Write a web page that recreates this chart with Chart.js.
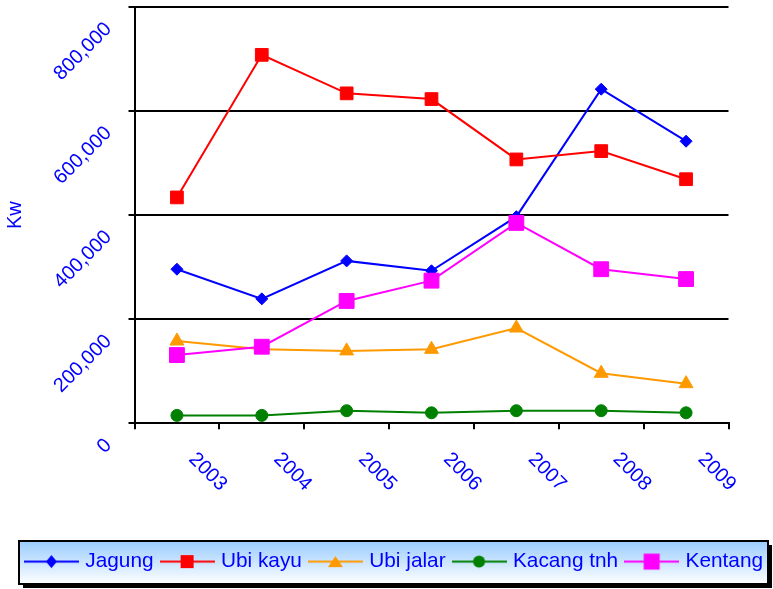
<!DOCTYPE html>
<html><head><meta charset="utf-8">
<script src="https://cdn.jsdelivr.net/npm/chart.js@4.4.1/dist/chart.umd.min.js"></script>
<style>html,body{margin:0;padding:0;background:#fff;} canvas{display:block;}</style>
</head><body>
<canvas id="c" width="773" height="589"></canvas>
<script>
const years = ['2003','2004','2005','2006','2007','2008','2009'];
const jagung = [296000, 239000, 312000, 293000, 397000, 642000, 542000];
const ubiKayu = [434000, 708000, 634000, 623000, 507000, 523000, 469000];
const ubiJalar = [158000, 142000, 139000, 142000, 183000, 96000, 76000];
const kacangTanah = [15000, 15000, 24000, 20000, 24000, 24000, 20000];
const kentang = [131000, 147000, 235000, 274000, 385000, 296000, 277000];
const seriesNames = ['Jagung', 'Ubi kayu', 'Ubi jalar', 'Kacang tnh', 'Kentang'];
const yTicks = [0, 200000, 400000, 600000, 800000];
const yTitle = 'Kw';

const FAMILY = '"Liberation Sans", Arial, sans-serif';
const BLUE_TEXT = '#0000ff';

function makeIcon(color, shape) {
  const c = document.createElement('canvas');
  c.width = 55; c.height = 21;
  const g = c.getContext('2d');
  const cx = 27.5, cy = 10.5;
  g.strokeStyle = color; g.lineWidth = 2;
  g.beginPath(); g.moveTo(0, cy); g.lineTo(55, cy); g.stroke();
  g.fillStyle = color;
  g.beginPath();
  if (shape === 'diamond') {
    g.moveTo(cx, cy - 6.5); g.lineTo(cx + 5.5, cy); g.lineTo(cx, cy + 6.5); g.lineTo(cx - 5.5, cy); g.closePath();
  } else if (shape === 'square') {
    g.rect(cx - 6.5, cy - 6.5, 13, 13);
  } else if (shape === 'bigsquare') {
    g.rect(cx - 8, cy - 8, 16, 16);
  } else if (shape === 'triangle') {
    g.moveTo(cx, cy - 5.5); g.lineTo(cx + 7.5, cy + 5.5); g.lineTo(cx - 7.5, cy + 5.5); g.closePath();
  } else if (shape === 'circle') {
    g.arc(cx, cy, 6, 0, Math.PI * 2);
  }
  g.fill();
  return c;
}

const colors = ['#0000ff', '#ff0000', '#ff9900', '#008000', '#ff00ff'];
const icons = [
  makeIcon(colors[0], 'diamond'),
  makeIcon(colors[1], 'square'),
  makeIcon(colors[2], 'triangle'),
  makeIcon(colors[3], 'circle'),
  makeIcon(colors[4], 'bigsquare')
];

function ds(i, data, style, radius, order) {
  return {
    label: seriesNames[i], data,
    borderColor: colors[i], backgroundColor: colors[i],
    pointBackgroundColor: colors[i], pointBorderColor: colors[i],
    borderWidth: 2, pointStyle: style, pointRadius: radius, pointHoverRadius: radius,
    pointBorderWidth: 1, tension: 0, fill: false, order, clip: false
  };
}

const legendBoxPlugin = {
  id: 'legendBox',
  beforeDraw(chart) {
    const lg = chart.legend;
    if (!lg || !lg.legendHitBoxes || !lg.legendHitBoxes.length) return;
    const hb = lg.legendHitBoxes;
    const last = hb[hb.length - 1];
    const ctx = chart.ctx;
    const l = Math.round(hb[0].left - 9), r = Math.round(last.left + last.width + 5);
    const t = Math.round(lg.top), b = Math.round(lg.bottom + 2);
    ctx.save();
    ctx.fillStyle = '#000';
    ctx.fillRect(l + 4, t + 4, r - l, b - t);
    const grd = ctx.createLinearGradient(0, t, 0, b);
    grd.addColorStop(0, '#99ccff');
    grd.addColorStop(1, '#ffffff');
    ctx.fillStyle = grd;
    ctx.fillRect(l, t, r - l, b - t);
    ctx.strokeStyle = '#000'; ctx.lineWidth = 2;
    ctx.strokeRect(l, t, r - l, b - t);
    ctx.restore();
  }
};

new Chart(document.getElementById('c'), {
  type: 'line',
  data: {
    labels: years,
    datasets: [
      ds(0, jagung, 'rectRot', 6, 5),
      ds(1, ubiKayu, 'rect', 9, 4),
      ds(2, ubiJalar, 'triangle', 8, 3),
      ds(3, kacangTanah, 'circle', 6, 2),
      ds(4, kentang, 'rect', 10.5, 1)
    ]
  },
  plugins: [legendBoxPlugin],
  options: {
    responsive: false,
    animation: false,
    events: [],
    layout: { autoPadding: false, padding: { left: 9, right: -9, top: 7, bottom: 7 } },
    plugins: {
      tooltip: { enabled: false },
      legend: {
        position: 'bottom',
        labels: {
          usePointStyle: true,
          pointStyleWidth: 47,
          padding: 10,
          color: BLUE_TEXT,
          font: { size: 20.8, family: FAMILY },
          generateLabels: (chart) => chart.data.datasets.map((d, i) => ({
            text: d.label, pointStyle: icons[i], fontColor: BLUE_TEXT,
            datasetIndex: i, hidden: false, lineWidth: 0,
            strokeStyle: 'rgba(0,0,0,0)', fillStyle: 'rgba(0,0,0,0)'
          }))
        }
      }
    },
    scales: {
      x: {
        offset: true,
        grid: { offset: true, drawOnChartArea: false, drawTicks: true, tickLength: 6, color: '#000', lineWidth: 2 },
        border: { color: '#000', width: 2 },
        ticks: {
          autoSkip: false, minRotation: -45, maxRotation: -45,
          labelOffset: 46.5, padding: 50, color: BLUE_TEXT,
          font: { size: 20, family: FAMILY }
        },
        afterFit: (s) => { s.height = 118; s.paddingLeft = 0; s.paddingRight = 0; }
      },
      y: {
        min: 0, max: 800000,
        afterBuildTicks: (s) => { s.ticks = yTicks.map(v => ({ value: v })); },
        grid: { color: '#000', lineWidth: 2, tickLength: 6, drawTicks: true },
        border: { color: '#000', width: 2 },
        ticks: {
          minRotation: 45, maxRotation: 45, padding: 20, labelOffset: 19,
          color: BLUE_TEXT, font: { size: 20, family: FAMILY },
          callback: (v) => Number(v).toLocaleString('en-US')
        },
        title: {
          display: true, text: yTitle, color: BLUE_TEXT,
          font: { size: 20, family: FAMILY }, padding: { top: -6, bottom: 0 }
        },
        afterFit: (s) => { s.width = 125.5; s.paddingTop = 0; s.paddingBottom = 0; }
      },
      yR: {
        position: 'right', display: true,
        grid: { display: false, drawTicks: false },
        border: { display: false },
        ticks: { display: false },
        afterFit: (s) => { s.width = 53.5; s.paddingTop = 0; s.paddingBottom = 0; }
      }
    }
  }
});
</script>
</body></html>
